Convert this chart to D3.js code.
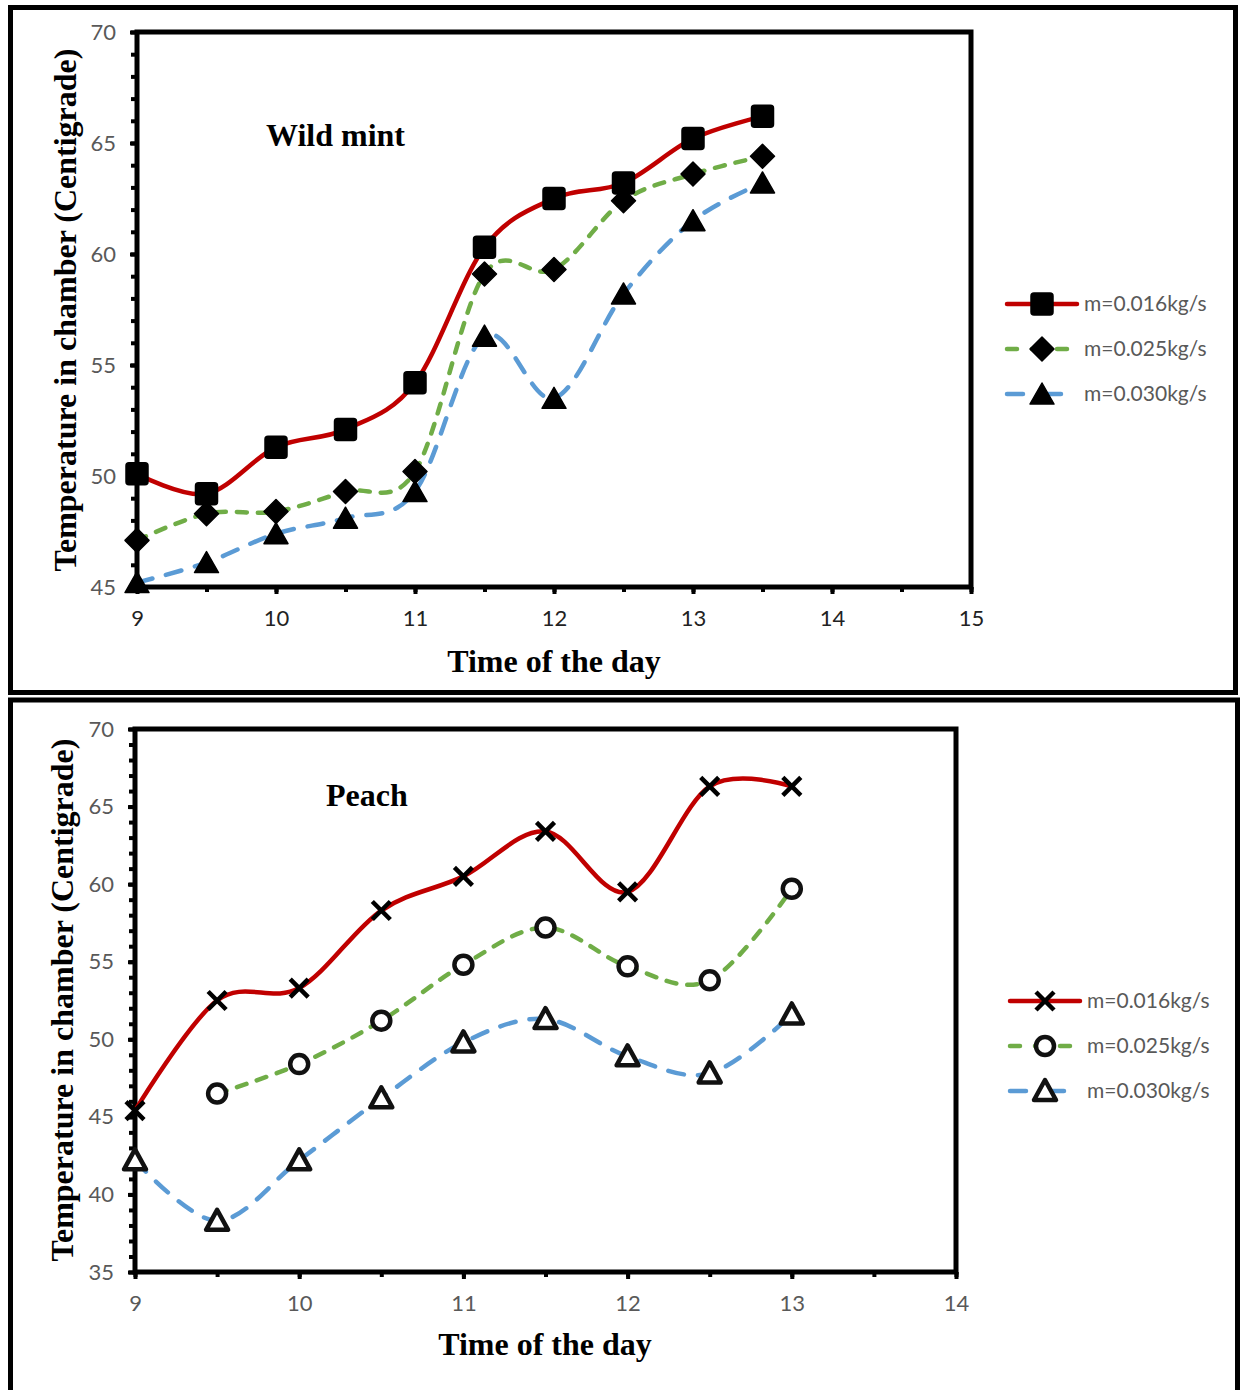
<!DOCTYPE html>
<html>
<head>
<meta charset="utf-8">
<script src="https://cdn.jsdelivr.net/npm/d3@7"></script>
<style>
  html, body { margin: 0; padding: 0; background: #fff; }
  svg { display: block; }
</style>
</head>
<body>
<svg id="chart" width="1240" height="1390"></svg>
<script>
// ---------- DATA ----------
const timesTop = [9, 9.5, 10, 10.5, 11, 11.5, 12, 12.5, 13, 13.5];
const mint016 = [50.1, 49.2, 51.3, 52.1, 54.2, 60.3, 62.5, 63.2, 65.2, 66.2];
const mint025 = [47.1, 48.3, 48.4, 49.3, 50.2, 59.1, 59.3, 62.4, 63.6, 64.4];
const mint030 = [45.2, 46.1, 47.4, 48.1, 49.3, 56.3, 53.5, 58.2, 61.5, 63.2];

const timesBottom = [9, 9.5, 10, 10.5, 11, 11.5, 12, 12.5, 13];
const peach016 = [45.4, 52.5, 53.3, 58.3, 60.5, 63.4, 59.5, 66.3, 66.3];
const peach025 = [null, 46.5, 48.4, 51.2, 54.8, 57.2, 54.7, 53.8, 59.7];
const peach030 = [42.2, 38.3, 42.2, 46.2, 49.8, 51.3, 48.9, 47.8, 51.6];

const seriesLabels = ["m=0.016kg/s", "m=0.025kg/s", "m=0.030kg/s"];
const topXTicks = [9, 10, 11, 12, 13, 14, 15];
const topYTicks = [45, 50, 55, 60, 65, 70];
const bottomXTicks = [9, 10, 11, 12, 13, 14];
const bottomYTicks = [35, 40, 45, 50, 55, 60, 65, 70];

// ---------- STYLE ----------
const colors = ["#C00000", "#70AD47", "#5B9BD5"];
const dashes = [null, "10,11", "16,14"];
const tickFont = "Lato, 'Open Sans', sans-serif";
const titleFont = "'Liberation Serif', 'Times New Roman', serif";
const labelColor = "#595959";

const svg = d3.select("#chart");

// outer frames
svg.append("rect").attr("x", 10.5).attr("y", 7.5).attr("width", 1225).attr("height", 685)
  .attr("fill", "none").attr("stroke", "#000").attr("stroke-width", 5);
svg.append("rect").attr("x", 10.5).attr("y", 700).attr("width", 1227).attr("height", 720)
  .attr("fill", "none").attr("stroke", "#000").attr("stroke-width", 5);

// marker path generators (centered at 0,0)
function markerPath(type) {
  switch (type) {
    case "square": return "M-11,-8Q-11,-11,-8,-11L8,-11Q11,-11,11,-8L11,8Q11,11,8,11L-8,11Q-11,11,-11,8Z";
    case "diamond": return "M0,-12L12,0L0,12L-12,0Z";
    case "triangle": return "M0,-11L12,10L-12,10Z";
    case "x": return "M-9,-9L9,9M9,-9L-9,9";
    case "circle": return "M-9,0A9,9 0 1,0 9,0A9,9 0 1,0 -9,0Z";
    case "otriangle": return "M0,-11L11,9L-11,9Z";
  }
}
function drawMarker(g, type, x, y) {
  const p = g.append("path").attr("d", markerPath(type))
    .attr("transform", `translate(${x},${y})`);
  if (type === "square" || type === "diamond" || type === "triangle") {
    p.attr("fill", "#000").attr("stroke", "#000").attr("stroke-width", 1.5).attr("stroke-linejoin", "round");
  } else if (type === "x") {
    p.attr("fill", "none").attr("stroke", "#000").attr("stroke-width", 4.5);
  } else {
    p.attr("fill", "#fff").attr("stroke", "#111").attr("stroke-width", 4.5).attr("stroke-linejoin", "round");
  }
}

function drawPanel(cfg) {
  const g = svg.append("g");
  const x = d3.scaleLinear().domain(cfg.xDomain).range(cfg.xRange);
  const y = d3.scaleLinear().domain(cfg.yDomain).range(cfg.yRange);

  // plot frame
  g.append("rect")
    .attr("x", x(cfg.xDomain[0])).attr("y", y(cfg.yDomain[1]))
    .attr("width", x(cfg.xDomain[1]) - x(cfg.xDomain[0]))
    .attr("height", y(cfg.yDomain[0]) - y(cfg.yDomain[1]))
    .attr("fill", "none").attr("stroke", "#000").attr("stroke-width", 5);

  const yMinor = g.append("g").attr("transform", `translate(${x(cfg.xDomain[0])},0)`)
    .call(d3.axisLeft(y).tickValues(d3.range(cfg.yDomain[0], cfg.yDomain[1] + 1, 1)).tickSize(6).tickFormat(""));
  const yMajor = g.append("g").attr("transform", `translate(${x(cfg.xDomain[0])},0)`)
    .call(d3.axisLeft(y).tickValues(cfg.yTicks).tickSize(7).tickPadding(14).tickFormat(d3.format("d")));
  const xMinor = g.append("g").attr("transform", `translate(0,${y(cfg.yDomain[0])})`)
    .call(d3.axisBottom(x).tickValues(d3.range(cfg.xDomain[0], cfg.xDomain[1] + 0.01, 0.5)).tickSize(5).tickFormat(""));
  const xMajor = g.append("g").attr("transform", `translate(0,${y(cfg.yDomain[0])})`)
    .call(d3.axisBottom(x).tickValues(cfg.xTicks).tickSize(7).tickPadding(16).tickFormat(d3.format("d")));

  [yMinor, yMajor, xMinor, xMajor].forEach(a => {
    a.select(".domain").remove();
    a.selectAll(".tick line").attr("stroke", "#000").attr("stroke-width", 4);
    a.selectAll(".tick text").attr("fill", labelColor)
      .style("font-family", tickFont).style("font-size", "22px");
  });
  xMajor.selectAll(".tick text").attr("fill", cfg.xLabelColor);

  const line = d3.line()
    .x(d => x(d[0])).y(d => y(d[1]))
    .curve(d3.curveCardinal.tension(0));

  cfg.series.forEach((vals, i) => {
    const pts = cfg.times.map((t, k) => [t, vals[k]]).filter(d => d[1] !== null);
    const path = g.append("path").datum(pts)
      .attr("d", line)
      .attr("fill", "none").attr("stroke", colors[i]).attr("stroke-width", 4.5)
      .attr("stroke-linecap", "round");
    if (dashes[i]) path.attr("stroke-dasharray", dashes[i]);
  });
  cfg.series.forEach((vals, i) => {
    cfg.times.forEach((t, k) => {
      if (vals[k] !== null) drawMarker(g, cfg.markers[i], x(t), y(vals[k]));
    });
  });

  g.append("text").attr("x", cfg.labelPos[0]).attr("y", cfg.labelPos[1])
    .text(cfg.label).attr("font-family", titleFont).attr("font-weight", "bold")
    .attr("font-size", 32).attr("fill", "#000");

  g.append("text").attr("x", cfg.xTitlePos[0]).attr("y", cfg.xTitlePos[1])
    .attr("text-anchor", "middle").text("Time of the day")
    .attr("font-family", titleFont).attr("font-weight", "bold").attr("font-size", 32);
  g.append("text")
    .attr("transform", `translate(${cfg.yTitlePos[0]},${cfg.yTitlePos[1]}) rotate(-90)`)
    .attr("text-anchor", "middle").text("Temperature in chamber (Centigrade)")
    .attr("font-family", titleFont).attr("font-weight", "bold").attr("font-size", 32);

  seriesLabels.forEach((lab, i) => {
    const ly = cfg.legendY[i];
    const [x0, x1] = cfg.legendX;
    const l = g.append("line").attr("x1", x0).attr("x2", x1).attr("y1", ly).attr("y2", ly)
      .attr("stroke", colors[i]).attr("stroke-width", 4.5).attr("stroke-linecap", "round");
    if (dashes[i]) l.attr("stroke-dasharray", i === 1 ? "10,15" : "16,22");
    drawMarker(g, cfg.markers[i], (x0 + x1) / 2, ly);
    g.append("text").attr("x", cfg.legendTextX).attr("y", ly).attr("dy", "0.35em")
      .text(lab).attr("fill", labelColor).attr("font-family", tickFont).attr("font-size", 21);
  });
}

drawPanel({
  xDomain: [9, 15], xRange: [137, 971],
  yDomain: [45, 70], yRange: [587, 32],
  xTicks: topXTicks, yTicks: topYTicks, xLabelColor: "#222",
  times: timesTop, series: [mint016, mint025, mint030],
  markers: ["square", "diamond", "triangle"],
  label: "Wild mint", labelPos: [266, 146],
  xTitlePos: [554, 672], yTitlePos: [76, 310],
  legendX: [1007, 1077], legendY: [304, 349, 394], legendTextX: 1084
});

drawPanel({
  xDomain: [9, 14], xRange: [135, 956],
  yDomain: [35, 70], yRange: [1272, 729],
  xTicks: bottomXTicks, yTicks: bottomYTicks, xLabelColor: labelColor,
  times: timesBottom, series: [peach016, peach025, peach030],
  markers: ["x", "circle", "otriangle"],
  label: "Peach", labelPos: [326, 806],
  xTitlePos: [545, 1355], yTitlePos: [73, 1000],
  legendX: [1010, 1080], legendY: [1001, 1046, 1091], legendTextX: 1087
});
</script>
</body>
</html>
